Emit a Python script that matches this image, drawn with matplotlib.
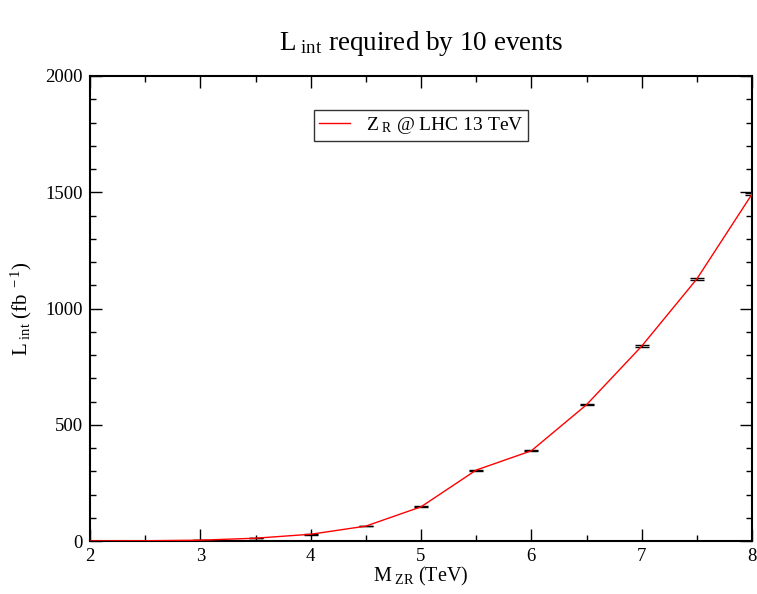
import matplotlib
matplotlib.use("Agg")
import matplotlib.pyplot as plt
from matplotlib.ticker import MultipleLocator

plt.rcParams['font.family'] = ['Liberation Serif', 'DejaVu Serif']
plt.rcParams['mathtext.fontset'] = 'custom'
plt.rcParams['mathtext.rm'] = 'Liberation Serif'
plt.rcParams['mathtext.it'] = 'Liberation Serif'

mass = [2.0, 2.5, 3.0, 3.5, 4.0, 4.5, 5.0, 5.5, 6.0, 6.5, 7.0, 7.5, 8.0]
lumi = [0.2, 1.0, 3.5, 12, 29, 64, 147, 305, 388, 586, 838, 1127, 1492]
err = [0.05, 0.3, 0.8, 1.2, 1.5, 1.5, 2.0, 2.0, 2.0, 2.5, 3.0, 4.0, 4.0]

fig = plt.figure(figsize=(7.57, 5.94), dpi=100)
ax = fig.add_axes([90/757, 1-541/594, (752-90)/757, (541-76)/594])

ax.plot(mass, lumi, color='red', lw=1.0, label=r'Z$_{\ \rm R}$ @ LHC 13 TeV', zorder=3)
ax.errorbar(mass, lumi, yerr=err, fmt='none', ecolor='black', elinewidth=1.0,
            capsize=4.7, capthick=1.0, zorder=2)

ax.set_xlim(2, 8)
ax.set_ylim(0, 2000)
ax.xaxis.set_major_locator(MultipleLocator(1))
ax.xaxis.set_minor_locator(MultipleLocator(0.5))
ax.yaxis.set_major_locator(MultipleLocator(500))
ax.yaxis.set_minor_locator(MultipleLocator(100))
ax.tick_params(which='both', direction='in', top=True, right=True, labelsize=13.5)
ax.tick_params(which='major', length=8.5, width=1.0, pad=5)
ax.tick_params(which='minor', length=4.5, width=1.0)
for s in ax.spines.values():
    s.set_linewidth(1.5)

ax.set_xlabel(r'M$_{\ \rm ZR}$ (TeV)', fontsize=14.5, labelpad=0)
ax.set_ylabel(r'L$_{\ \rm int}$ (fb$^{\ -1}$)', fontsize=15, labelpad=8)
ax.set_title(r'L$_{\ \rm int}$ required by 10 events', fontsize=19.5, pad=19)

leg = ax.legend(loc='upper center', bbox_to_anchor=(0.5, 0.927), fontsize=14, frameon=True,
                fancybox=False, edgecolor='black', handlelength=1.6, borderpad=0.25,
                borderaxespad=0)
leg.get_frame().set_linewidth(1.0)

fig.savefig('out.png', dpi=100)
